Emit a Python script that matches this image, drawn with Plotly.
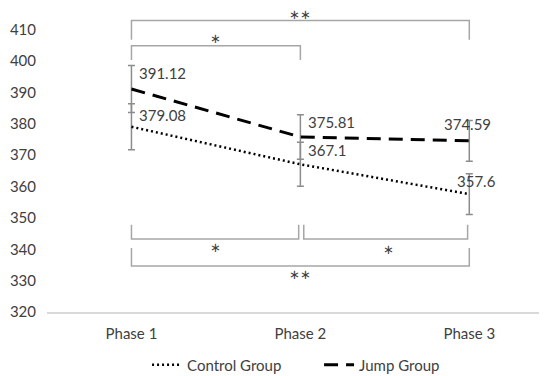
import plotly.graph_objects as go

phases = ["Phase 1", "Phase 2", "Phase 3"]
control = [379.08, 367.1, 357.6]
jump = [391.12, 375.81, 374.59]
control_err = [7.3, 7.0, 6.5]
jump_err = [7.5, 7.1, 6.5]
y_ticks = [320, 330, 340, 350, 360, 370, 380, 390, 400, 410]

FONT = "Lato"
FS = 15
TXT = "#404040"
BR = "#a6a6a6"
STAR_FONT = dict(family="DejaVu Sans", size=13, color=TXT)

fig = go.Figure()
fig.add_trace(go.Scatter(
    x=phases, y=control, name="Control Group", mode="lines",
    line=dict(color="black", width=2.5, dash="2px,3px"),
    error_y=dict(type="data", array=control_err, color="#8c8c8c", thickness=1.5, width=3.5),
))
fig.add_trace(go.Scatter(
    x=phases, y=jump, name="Jump Group", mode="lines",
    line=dict(color="black", width=3, dash="14px,8px"),
    error_y=dict(type="data", array=jump_err, color="#8c8c8c", thickness=1.5, width=3.5),
))

# value labels
c_shift = [(6, 12), (6, 14), (-14, 13.5)]
j_shift = [(6, 16), (6, 15), (-27, 17)]
for i, v in enumerate(control):
    fig.add_annotation(x=i, y=v, text=f"{v:g}", showarrow=False, xanchor="left",
                       yanchor="middle", xshift=c_shift[i][0], yshift=c_shift[i][1],
                       font=dict(family=FONT, size=FS, color=TXT))
for i, v in enumerate(jump):
    fig.add_annotation(x=i, y=v, text=f"{v:g}", showarrow=False, xanchor="left",
                       yanchor="middle", xshift=j_shift[i][0], yshift=j_shift[i][1],
                       font=dict(family=FONT, size=FS, color=TXT))

# significance brackets (top opens downward, bottom opens upward)
def bracket(x0, x1, y_line, y_end, label, lx, ly):
    fig.add_shape(type="path", xref="x", yref="y",
                  path=f"M {x0} {y_end} L {x0} {y_line} L {x1} {y_line} L {x1} {y_end}",
                  line=dict(color=BR, width=1.5))
    fig.add_annotation(x=lx, y=ly, text=label, showarrow=False, xref="x", yref="y",
                       yanchor="middle", font=STAR_FONT)

bracket(0, 2, 413.0, 406.8, "∗∗", 1, 414.8)
bracket(0, 1, 404.9, 400.4, "∗", 0.5, 407.1)
bracket(0, 0.99, 343.3, 347.8, "∗", 0.5, 340.6)
bracket(1.02, 1.99, 343.3, 347.8, "∗", 1.52, 340.0)
bracket(0, 2, 334.7, 340.4, "∗∗", 1, 332.0)

# page has an 8px body margin: figure is drawn at (8, 8)
fig.update_layout(
    width=539, height=368,
    margin=dict(l=39, r=0, t=3, b=64, autoexpand=False),
    paper_bgcolor="white", plot_bgcolor="white",
    font=dict(family=FONT, size=FS, color=TXT),
    showlegend=True,
    legend=dict(orientation="h", xref="container", x=0.258, xanchor="left",
                yref="container", y=0.03, yanchor="middle",
                entrywidth=127, entrywidthmode="pixels",
                font=dict(family=FONT, size=FS, color=TXT)),
    xaxis=dict(range=[-0.5, 2.46], showgrid=False, zeroline=False, automargin=False,
               showline=True, linecolor="#d9d9d9", linewidth=1.5,
               ticks="", ticklabelstandoff=7, tickfont=dict(family=FONT, size=FS, color=TXT)),
    yaxis=dict(range=[320, 416], tickvals=y_ticks, showgrid=False, zeroline=False,
               automargin=False, showline=False, ticks="", ticklabelstandoff=10,
               tickfont=dict(family=FONT, size=FS, color=TXT)),
)

fig.write_html("out.html")
